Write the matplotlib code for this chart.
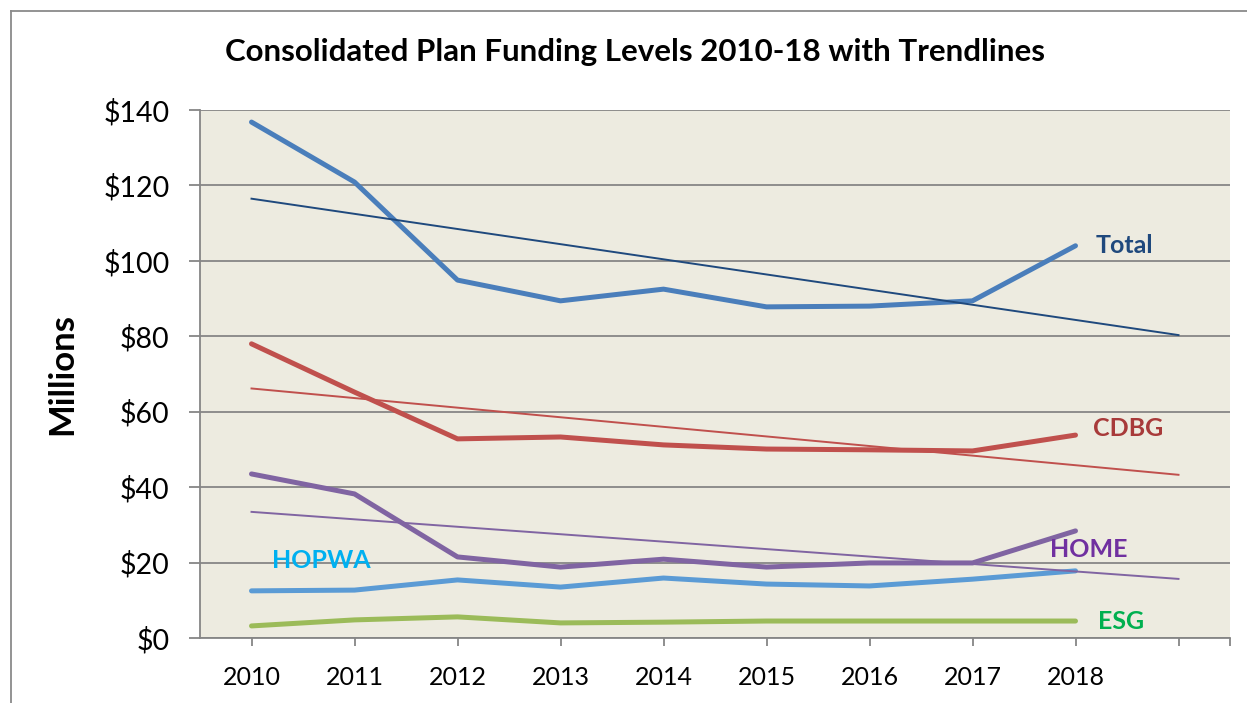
import matplotlib.pyplot as plt
from matplotlib.lines import Line2D
import numpy as np

# funding levels, millions of dollars
years = [2010, 2011, 2012, 2013, 2014, 2015, 2016, 2017, 2018]
total = [136.8, 120.9, 94.9, 89.4, 92.5, 87.8, 88.0, 89.4, 104.0]
cdbg = [78.0, 65.2, 52.8, 53.3, 51.2, 50.1, 49.9, 49.6, 53.8]
home = [43.5, 38.2, 21.5, 18.8, 20.9, 18.8, 19.9, 19.9, 28.4]
hopwa = [12.5, 12.7, 15.4, 13.5, 15.9, 14.3, 13.8, 15.6, 17.8]
esg = [3.2, 4.8, 5.6, 4.0, 4.2, 4.5, 4.5, 4.5, 4.5]
yticks = [0, 20, 40, 60, 80, 100, 120, 140]

plt.rcParams['font.family'] = ['Lato', 'DejaVu Sans']

fig = plt.figure(figsize=(12.47, 7.03), dpi=100)
ax = fig.add_axes([200/1247, 65/703, 1030/1247, 528/703])
ax.set_facecolor('#edebe0')

x = np.arange(len(years))
x_ext = np.arange(len(years) + 1)  # trendlines forecast one period

series = [
    (total, '#4a7ebb', '#1f497d'),
    (cdbg, '#c0504d', '#c0504d'),
    (home, '#8064a2', '#8064a2'),
    (hopwa, '#5b9bd5', None),
    (esg, '#9bbb59', None),
]
for vals, col, tcol in series:
    ax.plot(x, vals, color=col, lw=3.6, solid_capstyle='round', zorder=3)
    if tcol:
        m, b = np.polyfit(x, vals, 1)
        ax.plot(x_ext, m * x_ext + b, color=tcol, lw=1.4, zorder=4)

ax.set_xlim(-0.5, 9.5)
ax.set_ylim(0, 140)
ax.set_yticks(yticks)
ax.set_yticklabels(['${}'.format(v) for v in yticks], fontsize=20.5)
ax.set_xticks(list(x_ext) + [9.5])
ax.set_xticklabels([str(y) for y in years] + ['', ''], fontsize=18)
ax.grid(axis='y', color='#868686', lw=1.3)
ax.set_axisbelow(True)
for s in ['top', 'right']:
    ax.spines[s].set_visible(False)
for s in ['left', 'bottom']:
    ax.spines[s].set_color('#868686')
    ax.spines[s].set_linewidth(1.3)
ax.tick_params(axis='y', length=8, width=1.3, color='#868686', pad=14)
ax.tick_params(axis='x', length=6, width=1.3, color='#868686', pad=14)

ax.set_ylabel('Millions', fontsize=25, fontweight='bold', labelpad=18)

# series labels
lab = dict(fontsize=18, fontweight='bold', va='center')
ax.text(8.2, 104, 'Total', color='#1f497d', **lab)
ax.text(8.17, 55.5, 'CDBG', color='#a83a3a', **lab)
ax.text(7.75, 23.5, 'HOME', color='#7030a0', **lab)
ax.text(0.2, 20.5, 'HOPWA', color='#00b0f0', **lab)
ax.text(8.22, 4.5, 'ESG', color='#00b050', **lab)

fig.text(635/1247, 1 - 52/703, 'Consolidated Plan Funding Levels 2010-18 with Trendlines',
         ha='center', va='center', fontsize=22.5, fontweight='bold')

# chart area border (left and top edges visible)
fig.add_artist(Line2D([11/1247, 11/1247], [0, 1 - 11/703], color='#8a8a8a', lw=1.3))
fig.add_artist(Line2D([11/1247, 1], [1 - 11/703, 1 - 11/703], color='#8a8a8a', lw=1.3))

fig.savefig('out.png', dpi=100)
